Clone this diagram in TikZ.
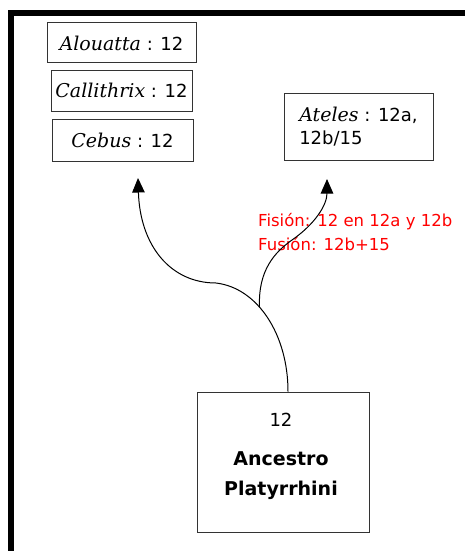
\documentclass[tikz,border=0pt]{standalone}
\usepackage{fontspec}
\setmainfont{DejaVu Sans}
\newfontfamily\especie{DejaVu Serif}
\usetikzlibrary{arrows.meta}

\newcommand{\genero}[1]{{\especie\itshape\fontsize{19}{22}\selectfont #1}}

\tikzset{
  caja/.style={draw=black!80, line width=1pt, inner sep=0pt, font=\fontsize{18}{23}\selectfont},
  rama/.style={black, line width=1pt, -{Triangle[width=12.5pt,length=14.5pt]}},
  borde/.style={black, line width=6pt}
}

\begin{document}
\begin{tikzpicture}[x=1pt, y=-1pt]

\useasboundingbox (0,0) rectangle (465,551);

\draw [borde] (11, 551) -- (11, 13.5) -- (465, 13.5);


  \node (alouatta) at (121.5, 43) [caja, minimum width=149pt, minimum height=40pt] {\genero{Alouatta} : 12};

  \node (callithrix) at (121.5, 90.5) [caja, minimum width=141pt, minimum height=41pt] {\genero{Callithrix} : 12};

  \node (cebus) at (122.5, 140) [caja, minimum width=141pt, minimum height=42pt] {\genero{Cebus} : 12};

  \node (ateles) at (358.5, 126.5) [caja, minimum width=149pt, minimum height=67pt, align=left] {\genero{Ateles} : 12a,\\12b/15};

  \node (ancestro) at (283, 462) [caja, minimum width=172pt, minimum height=140pt] {};

 \node (anc12) at (281, 420) [font=\fontsize{18}{20}\selectfont] {12};

 \node (ancnombre) at (281, 476) [align=center, font=\bfseries\fontsize{19}{30}\selectfont] {Ancestro\\Platyrrhini};

 \node (cambios) at (258, 232) [anchor=west, inner sep=0pt, align=left, red, font=\fontsize{16.5}{24}\selectfont] {Fisión: 12 en 12a y 12b\\Fusión: 12b+15};


\coordinate (puntaizq) at (138, 178);
\coordinate (puntader) at (327, 179);
\coordinate (division) at (259.5, 307);

\draw [rama] ([xshift=5pt]ancestro.north) .. controls (288, 335) and (258, 288) .. (216, 283) .. controls (170, 283) and (140, 245) .. (puntaizq);

\draw [rama] (division) .. controls (258, 270) and (275, 252) .. (292, 240) .. controls (315, 224) and (327, 205) .. (puntader);

\end{tikzpicture}
\end{document}
